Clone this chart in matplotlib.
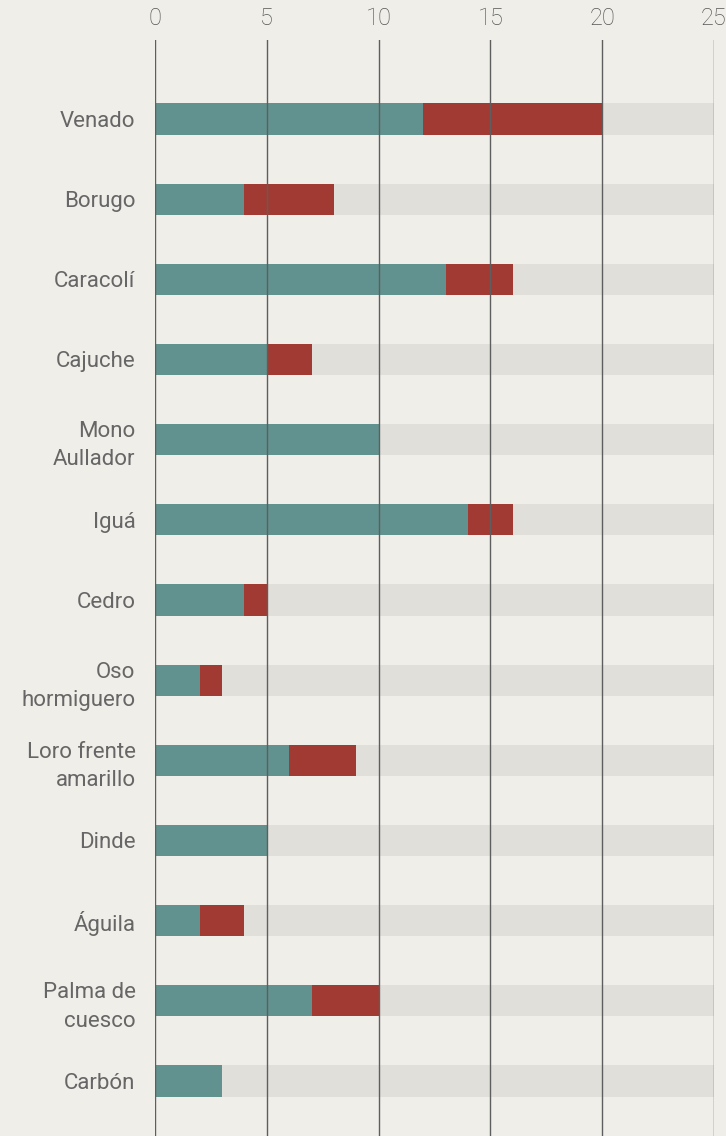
import numpy as np
import matplotlib.pyplot as plt

species = ["Venado", "Borugo", "Caracolí", "Cajuche", "Mono\nAullador", "Iguá",
           "Cedro", "Oso\nhormiguero", "Loro frente\namarillo", "Dinde",
           "Águila", "Palma de\ncuesco", "Carbón"]
teal_vals = [12, 4, 13, 5, 10, 14, 4, 2, 6, 5, 2, 7, 3]
red_vals = [8, 4, 3, 2, 0, 2, 1, 1, 3, 0, 2, 3, 0]
x_max = 25
x_ticks = [0, 5, 10, 15, 20, 25]

bg = "#f0eee9"
teal = "#62928f"
red = "#a03a33"
track = "#e0dfda"
text_col = "#666666"

plt.rcParams['font.family'] = ['Roboto', 'DejaVu Sans']

fig = plt.figure(figsize=(7.26, 11.36), dpi=100, facecolor=bg)
ax = fig.add_axes([155 / 726, 0, 559 / 726, 1 - 40 / 1136])
ax.set_facecolor(bg)

y = np.arange(len(species))
h = 0.39
teal_arr = np.array(teal_vals)
red_arr = np.array(red_vals)

ax.barh(y, x_max, height=h, color=track, zorder=1)
ax.barh(y, teal_arr, height=h, color=teal, zorder=2)
ax.barh(y, red_arr, left=teal_arr, height=h, color=red, zorder=2)

for t in x_ticks:
    ax.axvline(t, color="#5e5e5e", lw=1.0, zorder=3)

ax.set_xlim(0, x_max)
ax.set_ylim(len(species) - 1 + 0.686, -0.985)
ax.xaxis.tick_top()
ax.set_xticks(x_ticks)
ax.set_xticklabels([str(t) for t in x_ticks], fontweight="light")
ax.set_yticks(y)
ax.set_yticklabels(species, linespacing=1.45)
ax.tick_params(axis="x", length=0, pad=7, labelsize=17, labelcolor="#555555")
ax.tick_params(axis="y", length=0, pad=14, labelsize=16, labelcolor=text_col)
for lab in ax.get_yticklabels():
    lab.set_horizontalalignment("right")
for s in ax.spines.values():
    s.set_visible(False)

fig.savefig("out.png", dpi=100, facecolor=bg)
